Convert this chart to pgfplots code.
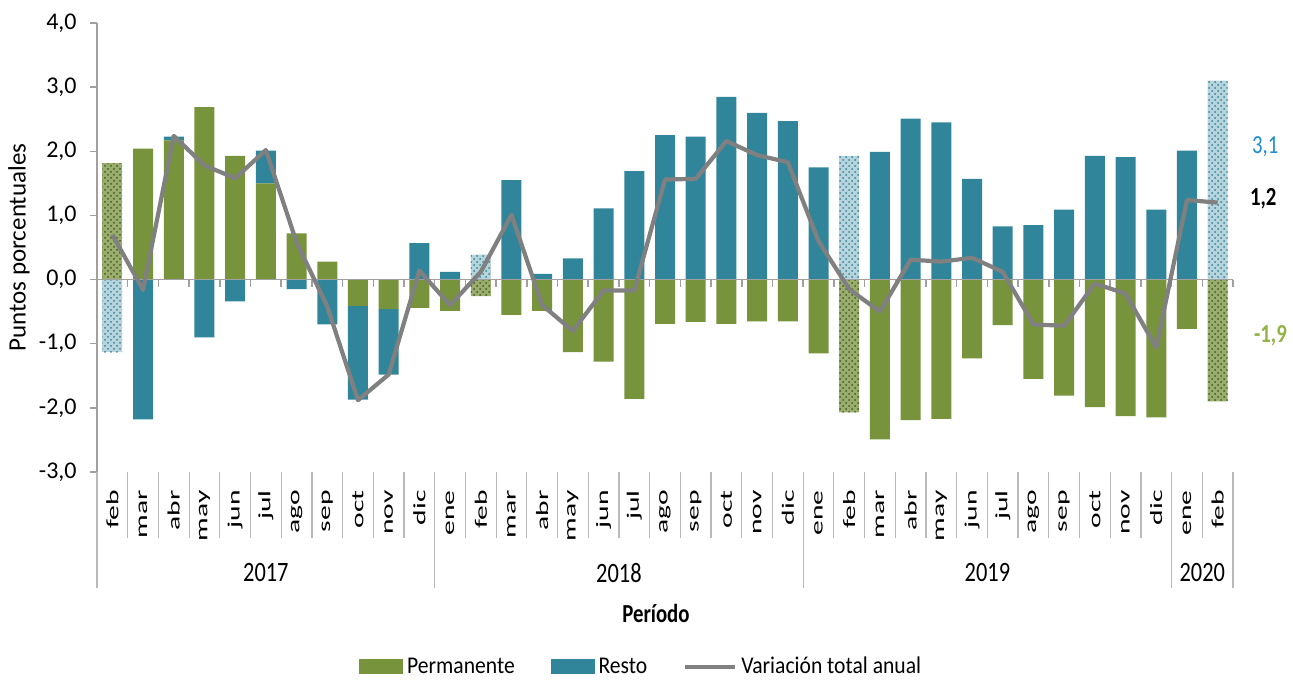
\documentclass[border=0pt]{standalone}
\usepackage{pgfplots}
\pgfplotsset{compat=1.18}
\usepackage{pgfplotstable}
\usetikzlibrary{patterns}
\usepackage{fontspec}
\setmainfont{Carlito}
\newfontfamily\monthfont{Carlito}[FakeStretch=1.7]
\newfontfamily\yearfont{Carlito}[FakeStretch=0.8]
\newfontfamily\legfont{Carlito}[FakeStretch=0.9]
\definecolor{pgreen}{RGB}{119,147,60}
\definecolor{pblue}{RGB}{49,133,155}
\definecolor{lgray}{RGB}{128,128,128}
\definecolor{agray}{RGB}{160,160,160}
\definecolor{sgray}{RGB}{185,185,185}
\definecolor{lblue}{RGB}{30,140,210}
\definecolor{lgreen}{RGB}{146,180,70}

% Pp/Pn: Permanente (solid) positive/negative; Rp/Rn: Resto (solid)
% Qp/Qn: Permanente (patterned); Sp/Sn: Resto (patterned); L: variacion total
\pgfplotstableread{
x  Pp    Pn     Rp    Rn     Qp    Qn     Sp    Sn     L
0  0     0      0     0      1.81  0      0     -1.13  0.70
1  2.04  0      0     -2.18  0     0      0     0      -0.16
2  2.17  0      0.06  0      0     0      0     0      2.24
3  2.69  0      0     -0.90  0     0      0     0      1.78
4  1.93  0      0     -0.34  0     0      0     0      1.58
5  1.50  0      0.51  0      0     0      0     0      2.02
6  0.72  0      0     -0.15  0     0      0     0      0.58
7  0.28  0      0     -0.70  0     0      0     0      -0.42
8  0     -0.41  0     -1.46  0     0      0     0      -1.88
9  0     -0.46  0     -1.02  0     0      0     0      -1.48
10 0     -0.44  0.57  0      0     0      0     0      0.14
11 0     -0.49  0.12  0      0     0      0     0      -0.40
12 0     0      0     0      0     -0.26  0.39  0      0.12
13 0     -0.55  1.55  0      0     0      0     0      1.01
14 0     -0.49  0.09  0      0     0      0     0      -0.40
15 0     -1.13  0.33  0      0     0      0     0      -0.80
16 0     -1.28  1.11  0      0     0      0     0      -0.17
17 0     -1.86  1.69  0      0     0      0     0      -0.17
18 0     -0.69  2.25  0      0     0      0     0      1.56
19 0     -0.66  2.23  0      0     0      0     0      1.57
20 0     -0.69  2.85  0      0     0      0     0      2.16
21 0     -0.65  2.60  0      0     0      0     0      1.94
22 0     -0.65  2.47  0      0     0      0     0      1.83
23 0     -1.15  1.75  0      0     0      0     0      0.60
24 0     0      0     0      0     -2.07  1.93  0      -0.15
25 0     -2.49  1.99  0      0     0      0     0      -0.50
26 0     -2.19  2.51  0      0     0      0     0      0.31
27 0     -2.17  2.45  0      0     0      0     0      0.28
28 0     -1.23  1.57  0      0     0      0     0      0.34
29 0     -0.71  0.83  0      0     0      0     0      0.12
30 0     -1.55  0.85  0      0     0      0     0      -0.70
31 0     -1.81  1.09  0      0     0      0     0      -0.72
32 0     -1.99  1.93  0      0     0      0     0      -0.06
33 0     -2.13  1.91  0      0     0      0     0      -0.22
34 0     -2.15  1.09  0      0     0      0     0      -1.06
35 0     -0.77  2.01  0      0     0      0     0      1.24
36 0     0      0     0      0     -1.90  3.10  0      1.20
}\data

\pgfplotsset{base/.style={scale only axis, width=568pt, height=224.5pt,
  at={(0pt,0pt)}, anchor=south west, xmin=-0.5, xmax=36.5, ymin=-3, ymax=4, clip=false},
  gpat/.style={draw=none, preaction={fill=pgreen!75}, pattern=crosshatch dots, pattern color=pgreen!60!black},
  bpat/.style={draw=none, preaction={fill=pblue!35}, pattern=crosshatch dots, pattern color=pblue}}

\begin{document}
\begin{tikzpicture}
\useasboundingbox (-48.5pt,-103.5pt) rectangle (598pt,236pt);

% positive parts + axis decorations
\begin{axis}[base, ybar stacked, bar width=10pt,
  axis y line*=left, axis x line*=bottom,
  x axis line style={draw=none},
  y axis line style={agray, line width=0.75pt},
  tick align=outside, major tick length=3.5pt,
  ytick={-3,...,4}, ytick style={agray, line width=0.75pt},
  /pgf/number format/assume math mode=true,
  yticklabel={\pgfmathprintnumber[fixed,fixed zerofill,precision=1,use comma]{\tick}},
  yticklabel style={font=\fontsize{12}{14}\selectfont, inner sep=0pt, xshift=-6.5pt},
  xtick={0,...,36}, xtick style={draw=none},
  xticklabels={feb,mar,abr,may,jun,jul,ago,sep,oct,nov,dic,ene,feb,mar,abr,may,jun,jul,ago,sep,oct,nov,dic,ene,feb,mar,abr,may,jun,jul,ago,sep,oct,nov,dic,ene,feb},
  xticklabel style={yshift=-5.5pt, rotate=90, anchor=east, inner sep=0pt,
    font=\monthfont\fontsize{8.7}{10}\selectfont},
  ylabel={Puntos porcentuales},
  ylabel style={at={(axis description cs:-0.059,0.5)}, anchor=south, inner sep=0pt,
    font=\fontsize{12.5}{15}\selectfont},
  xlabel={Período},
  xlabel style={at={(axis description cs:0.492,0)}, anchor=center, yshift=-70.5pt,
    font=\yearfont\bfseries\fontsize{13}{15}\selectfont},
]
\addplot[fill=pgreen, draw=none] table[x=x,y=Pp]{\data};
\addplot[gpat] table[x=x,y=Qp]{\data};
\addplot[fill=pblue, draw=none] table[x=x,y=Rp]{\data};
\addplot[bpat] table[x=x,y=Sp]{\data};

\pgfplotsinvokeforeach{0.5,1.5,...,35.5}{\draw[sgray, line width=0.6pt] (axis cs:#1,-3) -- ++(0pt,-33pt);}
\pgfplotsinvokeforeach{-0.5,10.5,22.5,34.5,36.5}{\draw[sgray, line width=0.6pt] (axis cs:#1,-3) -- ++(0pt,-58pt);}
\node[font=\yearfont\fontsize{14}{16}\selectfont, yshift=-50.5pt] at (axis cs:5,-3) {2017};
\node[font=\yearfont\fontsize{14}{16}\selectfont, yshift=-50.5pt] at (axis cs:16.5,-3) {2018};
\node[font=\yearfont\fontsize{14}{16}\selectfont, yshift=-50.5pt] at (axis cs:28.5,-3) {2019};
\node[font=\yearfont\fontsize{14}{16}\selectfont, yshift=-50.5pt] at (axis cs:35.5,-3) {2020};
\end{axis}

% negative parts
\begin{axis}[base, ybar stacked, bar width=10pt, hide axis]
\addplot[fill=pgreen, draw=none] table[x=x,y=Pn]{\data};
\addplot[gpat] table[x=x,y=Qn]{\data};
\addplot[fill=pblue, draw=none] table[x=x,y=Rn]{\data};
\addplot[bpat] table[x=x,y=Sn]{\data};
\end{axis}

% zero line, total line, legend, labels
\begin{axis}[base, hide axis,
  legend style={at={(axis description cs:0.48,-0.434)}, anchor=center, draw=none,
    fill=none, legend columns=3, font=\legfont\fontsize{12}{14}\selectfont,
    /tikz/every even column/.append style={column sep=16pt}},
]
\draw[agray, line width=0.75pt] (axis cs:-0.5,0) -- (axis cs:36.5,0);
\pgfplotsinvokeforeach{0.5,1.5,...,36.5}{\draw[agray, line width=0.75pt] (axis cs:#1,0) -- ++(0pt,-3.5pt);}
\addlegendimage{legend image code/.code={\fill[pgreen] (0pt,-3.5pt) rectangle (21.5pt,3.5pt);}}
\addlegendimage{legend image code/.code={\fill[pblue] (0pt,-3.5pt) rectangle (21.5pt,3.5pt);}}
\addplot[lgray, line width=2.1pt, line join=round, mark=none,
  legend image code/.code={\draw[lgray, line width=2pt] (0pt,0pt) -- (25pt,0pt);}] table[x=x,y=L]{\data};
\legend{Permanente, Resto, Variación total anual}
\node[anchor=west, text=lblue, font=\yearfont\fontsize{13}{15}\selectfont, xshift=6pt] at (axis cs:36.5,2.07) {3,1};
\node[anchor=west, text=black, font=\yearfont\bfseries\fontsize{13}{15}\selectfont, xshift=5pt] at (axis cs:36.5,1.26) {1,2};
\node[anchor=west, text=lgreen, font=\yearfont\bfseries\fontsize{13}{15}\selectfont, xshift=7pt] at (axis cs:36.5,-0.87) {-1,9};
\end{axis}
\end{tikzpicture}
\end{document}
